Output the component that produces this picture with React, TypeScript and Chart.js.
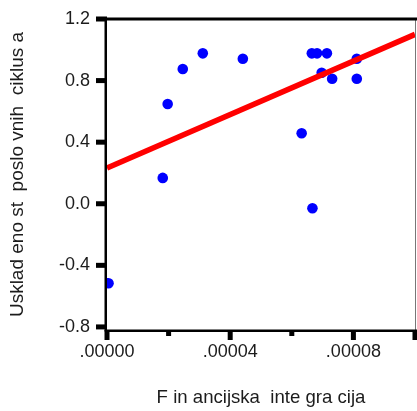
import React, { useEffect, useRef } from 'react';
import { Chart, registerables } from 'chart.js';

Chart.register(...registerables);

// Scatter data: financial integration (x) vs business-cycle synchronisation (y)
const pointsX = [
  0.0000005, 0.0000181, 0.0000197, 0.0000246, 0.0000311, 0.0000441, 0.0000632,
  0.0000665, 0.0000682, 0.0000714, 0.0000667, 0.0000697, 0.0000731, 0.0000811, 0.0000811,
];
const pointsY = [
  -0.516, 0.168, 0.648, 0.875, 0.977, 0.942, 0.458,
  0.977, 0.977, 0.977, -0.029, 0.851, 0.812, 0.942, 0.812,
];

// Fitted regression line endpoints
const fitX = [0, 0.0001];
const fitY = [0.232, 1.1];

// Axes
const xMin = 0;
const xMax = 0.0001;
const yMin = -0.82;
const yMax = 1.2;
const yTickValues = [-0.8, -0.4, 0.0, 0.4, 0.8, 1.2];
const xTickValues = [0, 0.00002, 0.00004, 0.00006, 0.00008, 0.0001];
const xTickLabels = ['.00000', '', '.00004', '', '.00008', ''];
const xTickMajor = [true, false, true, false, true, true];

const yTitle = 'Usklad eno st  poslo vnih  ciklus a';
const xTitle = 'F in ancijska  inte gra cija';

const FONT = "Arial, 'Liberation Sans', sans-serif";
const TEXT_COLOR = '#1c1c1c';

const axesPlugin = {
  id: 'spssAxes',
  afterDraw(chart: any) {
    const { ctx, chartArea: a, scales } = chart;
    const xs = scales.x;
    const ys = scales.y;
    const W = chart.width;
    ctx.save();
    // right border (thin grey)
    ctx.fillStyle = '#777';
    ctx.fillRect(a.right, a.top, 1, a.bottom - a.top);
    ctx.fillStyle = '#000';
    // top border
    ctx.fillRect(a.left - 1.5, a.top - 1.5, W - a.left + 1.5, 3);
    // bottom axis line
    ctx.fillRect(a.left - 1.5, a.bottom - 0.5, W - a.left + 1.5, 2.5);
    // left axis line
    ctx.fillRect(a.left - 2.5, a.top - 1.5, 2.5, a.bottom - a.top + 3);
    // y ticks
    yTickValues.forEach((v) => {
      const py = ys.getPixelForValue(v);
      ctx.fillRect(a.left - 11, py - 2.5, 11, 5);
    });
    // x ticks
    xTickValues.forEach((v, i) => {
      const px = xs.getPixelForValue(v);
      const len = xTickMajor[i] ? 10 : 6;
      ctx.fillRect(px - 2.5, a.bottom, 5, len);
    });
    ctx.restore();
  },
};

export default function App() {
  const canvasRef = useRef<HTMLCanvasElement | null>(null);

  useEffect(() => {
    document.body.style.margin = '0';
    const canvas = canvasRef.current;
    if (!canvas) return;

    const scatterData = pointsX.map((x, i) => ({ x, y: pointsY[i] }));
    const fitData = fitX.map((x, i) => ({ x, y: fitY[i] }));

    const chart = new Chart(canvas, {
      type: 'scatter',
      data: {
        datasets: [
          {
            type: 'line',
            label: 'fit',
            data: fitData,
            borderColor: '#ff0000',
            borderWidth: 5.5,
            pointRadius: 0,
            fill: false,
            clip: 0,
          } as any,
          {
            label: 'points',
            data: scatterData,
            backgroundColor: '#0000ff',
            borderWidth: 0,
            pointRadius: 5.3,
            clip: 0,
          } as any,
        ],
      },
      options: {
        responsive: false,
        animation: false,
        events: [],
        layout: { autoPadding: false, padding: { top: 19, right: 2, left: 0, bottom: 0 } },
        plugins: {
          legend: { display: false },
          tooltip: { enabled: false },
          title: { display: false },
        },
        scales: {
          x: {
            type: 'linear',
            position: 'bottom',
            min: xMin,
            max: xMax,
            afterBuildTicks: (scale: any) => {
              scale.ticks = xTickValues.map((v) => ({ value: v }));
            },
            afterFit: (scale: any) => {
              scale.height = 81;
              scale.paddingLeft = 0;
              scale.paddingRight = 0;
            },
            grid: { display: false, drawTicks: true, tickLength: 10 },
            border: { display: false },
            ticks: {
              autoSkip: false,
              maxRotation: 0,
              minRotation: 0,
              padding: 1,
              color: TEXT_COLOR,
              font: { family: FONT, size: 18 },
              callback: (_v: any, i: number) => xTickLabels[i],
            },
            title: {
              display: true,
              text: xTitle,
              color: TEXT_COLOR,
              font: { family: FONT, size: 18.6 },
              padding: { top: 0, bottom: 2 },
            },
          },
          y: {
            type: 'linear',
            position: 'left',
            min: yMin,
            max: yMax,
            afterBuildTicks: (scale: any) => {
              scale.ticks = yTickValues.map((v) => ({ value: v }));
            },
            afterFit: (scale: any) => {
              scale.width = 107;
              scale.paddingTop = 0;
              scale.paddingBottom = 0;
            },
            grid: { display: false, drawTicks: true, tickLength: 10 },
            border: { display: false },
            ticks: {
              padding: 7,
              color: TEXT_COLOR,
              font: { family: FONT, size: 18 },
              callback: (v: any) => Number(v).toFixed(1),
            },
            title: {
              display: true,
              text: yTitle,
              color: TEXT_COLOR,
              font: { family: FONT, size: 19 },
              padding: { top: 6, bottom: 0 },
            },
          },
        },
      },
      plugins: [axesPlugin],
    });

    return () => {
      chart.destroy();
    };
  }, []);

  return (
    <div style={{ width: 417, height: 411 }}>
      <canvas ref={canvasRef} width={417} height={411} style={{ display: 'block' }} />
    </div>
  );
}
